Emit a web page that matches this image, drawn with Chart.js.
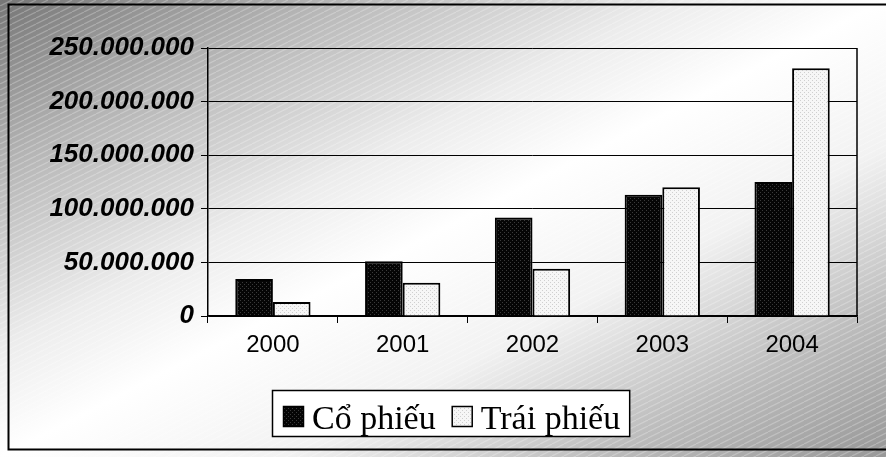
<!DOCTYPE html>
<html>
<head>
<meta charset="utf-8">
<script src="https://cdn.jsdelivr.net/npm/chart.js@4.4.0/dist/chart.umd.min.js"></script>
<style>
html,body{margin:0;padding:0;background:#fff;}
#wrap{width:886px;height:457px;position:relative;}
</style>
</head>
<body>
<div id="wrap"><canvas id="c" width="886" height="457"></canvas></div>
<script>
const years = ['2000', '2001', '2002', '2003', '2004'];
const coPhieu = [34500000, 51000000, 92000000, 113000000, 125000000];
const traiPhieu = [13000000, 31000000, 44000000, 120000000, 231000000];
const seriesNames = ['Cổ phiếu', 'Trái phiếu'];
const yMax = 250000000;
const yStep = 50000000;

function dotPattern(base, dot) {
  const c = document.createElement('canvas');
  c.width = 4; c.height = 4;
  const g = c.getContext('2d');
  g.fillStyle = base; g.fillRect(0, 0, 4, 4);
  g.fillStyle = dot;
  g.fillRect(0, 0, 1, 1); g.fillRect(2, 2, 1, 1);
  return g.createPattern(c, 'repeat');
}
const darkFill = dotPattern('#050505', '#3a3a3a');
const lightFill = dotPattern('#f6f6f6', '#cfcfcf');

function stripePattern() {
  const c = document.createElement('canvas');
  c.width = 12; c.height = 6;
  const g = c.getContext('2d');
  g.strokeStyle = 'rgba(255,255,255,0.25)';
  g.lineWidth = 1.2;
  g.beginPath(); g.moveTo(0, 6); g.lineTo(12, 0); g.stroke();
  g.beginPath(); g.moveTo(-12, 6); g.lineTo(0, 0); g.stroke();
  g.beginPath(); g.moveTo(12, 6); g.lineTo(24, 0); g.stroke();
  return g.createPattern(c, 'repeat');
}
const stripes = stripePattern();

const bgPlugin = {
  id: 'bg',
  beforeDraw(chart) {
    const { ctx, width, height } = chart;
    ctx.save();
    const t = (2 * width * height) / (width * width + height * height);
    const gr = ctx.createLinearGradient(0, 0, height * t, width * t);
    gr.addColorStop(0, '#767676');
    gr.addColorStop(0.18, '#b4b4b4');
    gr.addColorStop(0.38, '#ececec');
    gr.addColorStop(0.5, '#ffffff');
    gr.addColorStop(0.66, '#f2f2f2');
    gr.addColorStop(0.84, '#bcbcbc');
    gr.addColorStop(1, '#989898');
    ctx.fillStyle = gr;
    ctx.fillRect(0, 0, width, height);
    ctx.fillStyle = stripes;
    ctx.fillRect(0, 0, width, height);
    ctx.strokeStyle = '#000';
    ctx.lineWidth = 2;
    ctx.beginPath();
    ctx.moveTo(width + 2, 4.5);
    ctx.lineTo(8.5, 4.5);
    ctx.lineTo(8.5, 449.5);
    ctx.lineTo(width + 2, 449.5);
    ctx.stroke();
    ctx.restore();
  },
  afterDatasetsDraw(chart) {
    const { ctx, chartArea } = chart;
    ctx.save();
    ctx.strokeStyle = '#000';
    ctx.lineWidth = 1.5;
    ctx.beginPath();
    ctx.moveTo(chartArea.right, chartArea.top);
    ctx.lineTo(chartArea.right, chartArea.bottom);
    ctx.stroke();
    ctx.restore();
  },
  afterDraw(chart) {
    const { ctx } = chart;
    const ds = chart.data.datasets;
    ctx.save();
    ctx.font = '34px "Liberation Serif", "Times New Roman", serif';
    ctx.textBaseline = 'alphabetic';
    const pad = 11, sq = 21, gap = 8, itemGap = 16;
    const left = 272, top = 390, h = 46;
    let total = pad;
    const widths = ds.map(d => ctx.measureText(d.label).width);
    widths.forEach((w, i) => { total += sq + gap + w + (i < widths.length - 1 ? itemGap : 0); });
    total += pad - 2;
    ctx.fillStyle = '#fff';
    ctx.fillRect(left, top, total, h);
    ctx.strokeStyle = '#000';
    ctx.lineWidth = 1.5;
    ctx.strokeRect(left + 0.5, top + 0.5, total, h);
    let x = left + pad;
    ds.forEach((d, i) => {
      ctx.fillStyle = d.backgroundColor;
      ctx.fillRect(x, top + 16, sq, sq);
      ctx.strokeStyle = '#000';
      ctx.lineWidth = 1.5;
      ctx.strokeRect(x + 0.5, top + 16.5, sq - 1, sq - 1);
      ctx.fillStyle = '#000';
      ctx.fillText(d.label, x + sq + gap, top + 39);
      x += sq + gap + widths[i] + itemGap;
    });
    ctx.restore();
  }
};

function fmt(v) {
  return String(Math.round(v)).replace(/\B(?=(\d{3})+(?!\d))/g, '.');
}

new Chart(document.getElementById('c'), {
  type: 'bar',
  data: {
    labels: years,
    datasets: [
      { label: seriesNames[0], data: coPhieu, backgroundColor: darkFill, borderColor: '#000', borderWidth: 2 },
      { label: seriesNames[1], data: traiPhieu, backgroundColor: lightFill, borderColor: '#000', borderWidth: 2 }
    ]
  },
  options: {
    responsive: false,
    animation: false,
    devicePixelRatio: 1,
    layout: { padding: { left: 0, right: 29, top: 48, bottom: 100 } },
    datasets: { bar: { categoryPercentage: 0.58, barPercentage: 1.0 } },
    plugins: { legend: { display: false }, tooltip: { enabled: false } },
    scales: {
      x: {
        afterFit(s) { s.height = 41; },
        grid: { offset: true, drawOnChartArea: false, drawTicks: true, tickLength: 7, color: '#000', lineWidth: 1 },
        border: { display: true, color: '#000', width: 1.5 },
        ticks: { color: '#000', padding: 8, font: { family: '"Liberation Sans", Arial, sans-serif', size: 24 } }
      },
      y: {
        min: 0, max: yMax,
        afterFit(s) { s.width = 208; },
        grid: { color: '#000', lineWidth: 1, drawTicks: true, tickLength: 7 },
        border: { display: true, color: '#000', width: 1.5 },
        ticks: {
          stepSize: yStep, color: '#000', padding: 7,
          font: { family: '"Liberation Sans", Arial, sans-serif', size: 26, weight: 'bold', style: 'italic' },
          callback: v => fmt(v)
        }
      }
    }
  },
  plugins: [bgPlugin]
});
</script>
</body>
</html>
